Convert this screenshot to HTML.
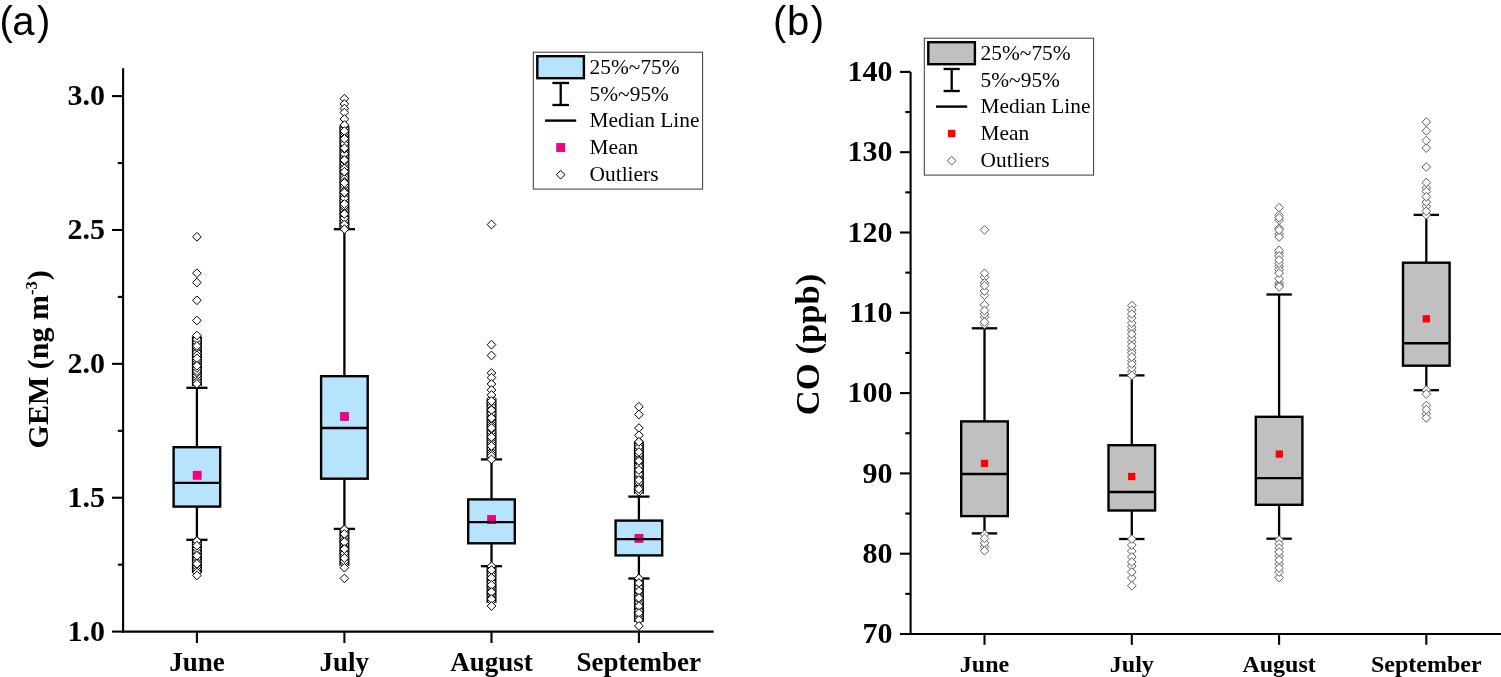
<!DOCTYPE html>
<html><head><meta charset="utf-8"><title>Box plots</title>
<style>html,body{margin:0;padding:0;background:#fff;overflow:hidden}svg{display:block}</style>
</head><body>
<svg width="1501" height="677" viewBox="0 0 1501 677">
<rect width="1501" height="677" fill="#fff"/>
<text x="-0.40" y="35.00" font-family="'Liberation Sans',Arial,sans-serif" font-size="40" font-weight="normal" text-anchor="start" >(<tspan dx="-0.6">a</tspan><tspan dx="2.4">)</tspan></text>
<line x1="196.90" y1="387.80" x2="196.90" y2="447.20" stroke="#000" stroke-width="2.3" stroke-linecap="butt"/>
<line x1="196.90" y1="506.60" x2="196.90" y2="539.80" stroke="#000" stroke-width="2.3" stroke-linecap="butt"/>
<line x1="186.30" y1="387.80" x2="207.50" y2="387.80" stroke="#000" stroke-width="2.3" stroke-linecap="butt"/>
<line x1="186.30" y1="539.80" x2="207.50" y2="539.80" stroke="#000" stroke-width="2.3" stroke-linecap="butt"/>
<rect x="173.60" y="447.20" width="46.60" height="59.40" fill="#b7e4fd" stroke="#000" stroke-width="2.4"/>
<rect x="192.75" y="470.85" width="8.90" height="8.90" fill="#f00082" stroke="none" stroke-width="0"/>
<line x1="173.60" y1="482.90" x2="220.20" y2="482.90" stroke="#000" stroke-width="2.4" stroke-linecap="butt"/>
<path d="M196.90 339.94L201.25 344.29L196.90 348.64L192.55 344.29Z" fill="#fff" stroke="#000" stroke-width="1.0"/>
<path d="M196.90 345.49L201.25 349.84L196.90 354.19L192.55 349.84Z" fill="#fff" stroke="#000" stroke-width="1.0"/>
<path d="M196.90 332.44L201.25 336.79L196.90 341.14L192.55 336.79Z" fill="#fff" stroke="#000" stroke-width="1.0"/>
<path d="M196.90 374.40L201.25 378.75L196.90 383.10L192.55 378.75Z" fill="#fff" stroke="#000" stroke-width="1.0"/>
<path d="M196.90 358.13L201.25 362.48L196.90 366.83L192.55 362.48Z" fill="#fff" stroke="#000" stroke-width="1.0"/>
<path d="M196.90 355.97L201.25 360.32L196.90 364.67L192.55 360.32Z" fill="#fff" stroke="#000" stroke-width="1.0"/>
<path d="M196.90 360.76L201.25 365.11L196.90 369.46L192.55 365.11Z" fill="#fff" stroke="#000" stroke-width="1.0"/>
<path d="M196.90 371.32L201.25 375.67L196.90 380.02L192.55 375.67Z" fill="#fff" stroke="#000" stroke-width="1.0"/>
<path d="M196.90 368.60L201.25 372.95L196.90 377.30L192.55 372.95Z" fill="#fff" stroke="#000" stroke-width="1.0"/>
<path d="M196.90 379.54L201.25 383.89L196.90 388.24L192.55 383.89Z" fill="#fff" stroke="#000" stroke-width="1.0"/>
<path d="M196.90 347.72L201.25 352.07L196.90 356.42L192.55 352.07Z" fill="#fff" stroke="#000" stroke-width="1.0"/>
<path d="M196.90 343.09L201.25 347.44L196.90 351.79L192.55 347.44Z" fill="#fff" stroke="#000" stroke-width="1.0"/>
<path d="M196.90 338.03L201.25 342.38L196.90 346.73L192.55 342.38Z" fill="#fff" stroke="#000" stroke-width="1.0"/>
<path d="M196.90 366.84L201.25 371.19L196.90 375.54L192.55 371.19Z" fill="#fff" stroke="#000" stroke-width="1.0"/>
<path d="M196.90 352.89L201.25 357.24L196.90 361.59L192.55 357.24Z" fill="#fff" stroke="#000" stroke-width="1.0"/>
<path d="M196.90 377.39L201.25 381.74L196.90 386.09L192.55 381.74Z" fill="#fff" stroke="#000" stroke-width="1.0"/>
<path d="M196.90 350.86L201.25 355.21L196.90 359.56L192.55 355.21Z" fill="#fff" stroke="#000" stroke-width="1.0"/>
<path d="M196.90 334.83L201.25 339.18L196.90 343.53L192.55 339.18Z" fill="#fff" stroke="#000" stroke-width="1.0"/>
<path d="M196.90 363.76L201.25 368.11L196.90 372.46L192.55 368.11Z" fill="#fff" stroke="#000" stroke-width="1.0"/>
<line x1="192.50" y1="337.00" x2="192.50" y2="386.00" stroke="#000" stroke-width="1.2" stroke-linecap="butt"/>
<line x1="201.30" y1="337.00" x2="201.30" y2="386.00" stroke="#000" stroke-width="1.2" stroke-linecap="butt"/>
<path d="M196.90 565.60L201.25 569.95L196.90 574.30L192.55 569.95Z" fill="#fff" stroke="#000" stroke-width="1.0"/>
<path d="M196.90 536.50L201.25 540.85L196.90 545.20L192.55 540.85Z" fill="#fff" stroke="#000" stroke-width="1.0"/>
<path d="M196.90 562.41L201.25 566.76L196.90 571.11L192.55 566.76Z" fill="#fff" stroke="#000" stroke-width="1.0"/>
<path d="M196.90 552.16L201.25 556.51L196.90 560.86L192.55 556.51Z" fill="#fff" stroke="#000" stroke-width="1.0"/>
<path d="M196.90 568.09L201.25 572.44L196.90 576.79L192.55 572.44Z" fill="#fff" stroke="#000" stroke-width="1.0"/>
<path d="M196.90 549.87L201.25 554.22L196.90 558.57L192.55 554.22Z" fill="#fff" stroke="#000" stroke-width="1.0"/>
<path d="M196.90 541.33L201.25 545.68L196.90 550.03L192.55 545.68Z" fill="#fff" stroke="#000" stroke-width="1.0"/>
<path d="M196.90 554.63L201.25 558.98L196.90 563.33L192.55 558.98Z" fill="#fff" stroke="#000" stroke-width="1.0"/>
<path d="M196.90 557.55L201.25 561.90L196.90 566.25L192.55 561.90Z" fill="#fff" stroke="#000" stroke-width="1.0"/>
<path d="M196.90 546.70L201.25 551.05L196.90 555.40L192.55 551.05Z" fill="#fff" stroke="#000" stroke-width="1.0"/>
<path d="M196.90 559.99L201.25 564.34L196.90 568.69L192.55 564.34Z" fill="#fff" stroke="#000" stroke-width="1.0"/>
<path d="M196.90 539.31L201.25 543.66L196.90 548.01L192.55 543.66Z" fill="#fff" stroke="#000" stroke-width="1.0"/>
<path d="M196.90 543.92L201.25 548.27L196.90 552.62L192.55 548.27Z" fill="#fff" stroke="#000" stroke-width="1.0"/>
<line x1="192.50" y1="541.00" x2="192.50" y2="573.00" stroke="#000" stroke-width="1.2" stroke-linecap="butt"/>
<line x1="201.30" y1="541.00" x2="201.30" y2="573.00" stroke="#000" stroke-width="1.2" stroke-linecap="butt"/>
<path d="M196.90 232.45L201.25 236.80L196.90 241.15L192.55 236.80Z" fill="#fff" stroke="#000" stroke-width="1.0"/>
<path d="M196.90 268.85L201.25 273.20L196.90 277.55L192.55 273.20Z" fill="#fff" stroke="#000" stroke-width="1.0"/>
<path d="M196.90 278.15L201.25 282.50L196.90 286.85L192.55 282.50Z" fill="#fff" stroke="#000" stroke-width="1.0"/>
<path d="M196.90 295.95L201.25 300.30L196.90 304.65L192.55 300.30Z" fill="#fff" stroke="#000" stroke-width="1.0"/>
<path d="M196.90 316.15L201.25 320.50L196.90 324.85L192.55 320.50Z" fill="#fff" stroke="#000" stroke-width="1.0"/>
<path d="M196.90 331.15L201.25 335.50L196.90 339.85L192.55 335.50Z" fill="#fff" stroke="#000" stroke-width="1.0"/>
<path d="M196.90 341.55L201.25 345.90L196.90 350.25L192.55 345.90Z" fill="#fff" stroke="#000" stroke-width="1.0"/>
<path d="M196.90 353.95L201.25 358.30L196.90 362.65L192.55 358.30Z" fill="#fff" stroke="#000" stroke-width="1.0"/>
<path d="M196.90 361.45L201.25 365.80L196.90 370.15L192.55 365.80Z" fill="#fff" stroke="#000" stroke-width="1.0"/>
<path d="M196.90 379.55L201.25 383.90L196.90 388.25L192.55 383.90Z" fill="#fff" stroke="#000" stroke-width="1.0"/>
<path d="M196.90 536.65L201.25 541.00L196.90 545.35L192.55 541.00Z" fill="#fff" stroke="#000" stroke-width="1.0"/>
<path d="M196.90 541.35L201.25 545.70L196.90 550.05L192.55 545.70Z" fill="#fff" stroke="#000" stroke-width="1.0"/>
<path d="M196.90 551.35L201.25 555.70L196.90 560.05L192.55 555.70Z" fill="#fff" stroke="#000" stroke-width="1.0"/>
<path d="M196.90 559.45L201.25 563.80L196.90 568.15L192.55 563.80Z" fill="#fff" stroke="#000" stroke-width="1.0"/>
<path d="M196.90 571.05L201.25 575.40L196.90 579.75L192.55 575.40Z" fill="#fff" stroke="#000" stroke-width="1.0"/>
<line x1="344.40" y1="229.20" x2="344.40" y2="376.20" stroke="#000" stroke-width="2.3" stroke-linecap="butt"/>
<line x1="344.40" y1="478.70" x2="344.40" y2="528.90" stroke="#000" stroke-width="2.3" stroke-linecap="butt"/>
<line x1="333.80" y1="229.20" x2="355.00" y2="229.20" stroke="#000" stroke-width="2.3" stroke-linecap="butt"/>
<line x1="333.80" y1="528.90" x2="355.00" y2="528.90" stroke="#000" stroke-width="2.3" stroke-linecap="butt"/>
<rect x="321.10" y="376.20" width="46.60" height="102.50" fill="#b7e4fd" stroke="#000" stroke-width="2.4"/>
<rect x="340.05" y="412.05" width="8.90" height="8.90" fill="#f00082" stroke="none" stroke-width="0"/>
<line x1="321.10" y1="428.00" x2="367.70" y2="428.00" stroke="#000" stroke-width="2.4" stroke-linecap="butt"/>
<path d="M344.40 168.62L348.75 172.97L344.40 177.32L340.05 172.97Z" fill="#fff" stroke="#000" stroke-width="1.0"/>
<path d="M344.40 206.35L348.75 210.70L344.40 215.05L340.05 210.70Z" fill="#fff" stroke="#000" stroke-width="1.0"/>
<path d="M344.40 124.05L348.75 128.40L344.40 132.75L340.05 128.40Z" fill="#fff" stroke="#000" stroke-width="1.0"/>
<path d="M344.40 219.21L348.75 223.56L344.40 227.91L340.05 223.56Z" fill="#fff" stroke="#000" stroke-width="1.0"/>
<path d="M344.40 179.54L348.75 183.89L344.40 188.24L340.05 183.89Z" fill="#fff" stroke="#000" stroke-width="1.0"/>
<path d="M344.40 151.76L348.75 156.11L344.40 160.46L340.05 156.11Z" fill="#fff" stroke="#000" stroke-width="1.0"/>
<path d="M344.40 128.73L348.75 133.08L344.40 137.43L340.05 133.08Z" fill="#fff" stroke="#000" stroke-width="1.0"/>
<path d="M344.40 136.85L348.75 141.20L344.40 145.55L340.05 141.20Z" fill="#fff" stroke="#000" stroke-width="1.0"/>
<path d="M344.40 222.11L348.75 226.46L344.40 230.81L340.05 226.46Z" fill="#fff" stroke="#000" stroke-width="1.0"/>
<path d="M344.40 171.89L348.75 176.24L344.40 180.59L340.05 176.24Z" fill="#fff" stroke="#000" stroke-width="1.0"/>
<path d="M344.40 184.01L348.75 188.36L344.40 192.71L340.05 188.36Z" fill="#fff" stroke="#000" stroke-width="1.0"/>
<path d="M344.40 191.60L348.75 195.95L344.40 200.30L340.05 195.95Z" fill="#fff" stroke="#000" stroke-width="1.0"/>
<path d="M344.40 212.10L348.75 216.45L344.40 220.80L340.05 216.45Z" fill="#fff" stroke="#000" stroke-width="1.0"/>
<path d="M344.40 162.18L348.75 166.53L344.40 170.88L340.05 166.53Z" fill="#fff" stroke="#000" stroke-width="1.0"/>
<path d="M344.40 126.96L348.75 131.31L344.40 135.66L340.05 131.31Z" fill="#fff" stroke="#000" stroke-width="1.0"/>
<path d="M344.40 146.43L348.75 150.78L344.40 155.13L340.05 150.78Z" fill="#fff" stroke="#000" stroke-width="1.0"/>
<path d="M344.40 198.62L348.75 202.97L344.40 207.32L340.05 202.97Z" fill="#fff" stroke="#000" stroke-width="1.0"/>
<path d="M344.40 216.59L348.75 220.94L344.40 225.29L340.05 220.94Z" fill="#fff" stroke="#000" stroke-width="1.0"/>
<path d="M344.40 154.25L348.75 158.60L344.40 162.95L340.05 158.60Z" fill="#fff" stroke="#000" stroke-width="1.0"/>
<path d="M344.40 196.19L348.75 200.54L344.40 204.89L340.05 200.54Z" fill="#fff" stroke="#000" stroke-width="1.0"/>
<path d="M344.40 213.65L348.75 218.00L344.40 222.35L340.05 218.00Z" fill="#fff" stroke="#000" stroke-width="1.0"/>
<path d="M344.40 203.71L348.75 208.06L344.40 212.41L340.05 208.06Z" fill="#fff" stroke="#000" stroke-width="1.0"/>
<path d="M344.40 141.74L348.75 146.09L344.40 150.44L340.05 146.09Z" fill="#fff" stroke="#000" stroke-width="1.0"/>
<path d="M344.40 201.97L348.75 206.32L344.40 210.67L340.05 206.32Z" fill="#fff" stroke="#000" stroke-width="1.0"/>
<path d="M344.40 166.85L348.75 171.20L344.40 175.55L340.05 171.20Z" fill="#fff" stroke="#000" stroke-width="1.0"/>
<path d="M344.40 159.56L348.75 163.91L344.40 168.26L340.05 163.91Z" fill="#fff" stroke="#000" stroke-width="1.0"/>
<path d="M344.40 121.19L348.75 125.54L344.40 129.89L340.05 125.54Z" fill="#fff" stroke="#000" stroke-width="1.0"/>
<path d="M344.40 193.75L348.75 198.10L344.40 202.45L340.05 198.10Z" fill="#fff" stroke="#000" stroke-width="1.0"/>
<path d="M344.40 174.33L348.75 178.68L344.40 183.03L340.05 178.68Z" fill="#fff" stroke="#000" stroke-width="1.0"/>
<path d="M344.40 139.47L348.75 143.82L344.40 148.17L340.05 143.82Z" fill="#fff" stroke="#000" stroke-width="1.0"/>
<path d="M344.40 131.64L348.75 135.99L344.40 140.34L340.05 135.99Z" fill="#fff" stroke="#000" stroke-width="1.0"/>
<path d="M344.40 149.38L348.75 153.73L344.40 158.08L340.05 153.73Z" fill="#fff" stroke="#000" stroke-width="1.0"/>
<path d="M344.40 133.60L348.75 137.95L344.40 142.30L340.05 137.95Z" fill="#fff" stroke="#000" stroke-width="1.0"/>
<path d="M344.40 144.60L348.75 148.95L344.40 153.30L340.05 148.95Z" fill="#fff" stroke="#000" stroke-width="1.0"/>
<path d="M344.40 156.60L348.75 160.95L344.40 165.30L340.05 160.95Z" fill="#fff" stroke="#000" stroke-width="1.0"/>
<path d="M344.40 181.39L348.75 185.74L344.40 190.09L340.05 185.74Z" fill="#fff" stroke="#000" stroke-width="1.0"/>
<path d="M344.40 177.24L348.75 181.59L344.40 185.94L340.05 181.59Z" fill="#fff" stroke="#000" stroke-width="1.0"/>
<path d="M344.40 186.85L348.75 191.20L344.40 195.55L340.05 191.20Z" fill="#fff" stroke="#000" stroke-width="1.0"/>
<path d="M344.40 164.12L348.75 168.47L344.40 172.82L340.05 168.47Z" fill="#fff" stroke="#000" stroke-width="1.0"/>
<path d="M344.40 209.02L348.75 213.37L344.40 217.72L340.05 213.37Z" fill="#fff" stroke="#000" stroke-width="1.0"/>
<path d="M344.40 188.58L348.75 192.93L344.40 197.28L340.05 192.93Z" fill="#fff" stroke="#000" stroke-width="1.0"/>
<line x1="340.00" y1="126.00" x2="340.00" y2="228.00" stroke="#000" stroke-width="1.2" stroke-linecap="butt"/>
<line x1="348.80" y1="126.00" x2="348.80" y2="228.00" stroke="#000" stroke-width="1.2" stroke-linecap="butt"/>
<path d="M344.40 525.12L348.75 529.47L344.40 533.82L340.05 529.47Z" fill="#fff" stroke="#000" stroke-width="1.0"/>
<path d="M344.40 530.50L348.75 534.85L344.40 539.20L340.05 534.85Z" fill="#fff" stroke="#000" stroke-width="1.0"/>
<path d="M344.40 554.70L348.75 559.05L344.40 563.40L340.05 559.05Z" fill="#fff" stroke="#000" stroke-width="1.0"/>
<path d="M344.40 559.03L348.75 563.38L344.40 567.73L340.05 563.38Z" fill="#fff" stroke="#000" stroke-width="1.0"/>
<path d="M344.40 551.08L348.75 555.43L344.40 559.78L340.05 555.43Z" fill="#fff" stroke="#000" stroke-width="1.0"/>
<path d="M344.40 533.04L348.75 537.39L344.40 541.74L340.05 537.39Z" fill="#fff" stroke="#000" stroke-width="1.0"/>
<path d="M344.40 540.65L348.75 545.00L344.40 549.35L340.05 545.00Z" fill="#fff" stroke="#000" stroke-width="1.0"/>
<path d="M344.40 545.97L348.75 550.32L344.40 554.67L340.05 550.32Z" fill="#fff" stroke="#000" stroke-width="1.0"/>
<path d="M344.40 527.73L348.75 532.08L344.40 536.43L340.05 532.08Z" fill="#fff" stroke="#000" stroke-width="1.0"/>
<path d="M344.40 543.43L348.75 547.78L344.40 552.13L340.05 547.78Z" fill="#fff" stroke="#000" stroke-width="1.0"/>
<path d="M344.40 556.99L348.75 561.34L344.40 565.69L340.05 561.34Z" fill="#fff" stroke="#000" stroke-width="1.0"/>
<path d="M344.40 548.89L348.75 553.24L344.40 557.59L340.05 553.24Z" fill="#fff" stroke="#000" stroke-width="1.0"/>
<path d="M344.40 538.11L348.75 542.46L344.40 546.81L340.05 542.46Z" fill="#fff" stroke="#000" stroke-width="1.0"/>
<path d="M344.40 535.86L348.75 540.21L344.40 544.56L340.05 540.21Z" fill="#fff" stroke="#000" stroke-width="1.0"/>
<line x1="340.00" y1="530.00" x2="340.00" y2="566.00" stroke="#000" stroke-width="1.2" stroke-linecap="butt"/>
<line x1="348.80" y1="530.00" x2="348.80" y2="566.00" stroke="#000" stroke-width="1.2" stroke-linecap="butt"/>
<path d="M344.40 94.35L348.75 98.70L344.40 103.05L340.05 98.70Z" fill="#fff" stroke="#000" stroke-width="1.0"/>
<path d="M344.40 99.65L348.75 104.00L344.40 108.35L340.05 104.00Z" fill="#fff" stroke="#000" stroke-width="1.0"/>
<path d="M344.40 104.15L348.75 108.50L344.40 112.85L340.05 108.50Z" fill="#fff" stroke="#000" stroke-width="1.0"/>
<path d="M344.40 108.15L348.75 112.50L344.40 116.85L340.05 112.50Z" fill="#fff" stroke="#000" stroke-width="1.0"/>
<path d="M344.40 114.65L348.75 119.00L344.40 123.35L340.05 119.00Z" fill="#fff" stroke="#000" stroke-width="1.0"/>
<path d="M344.40 120.65L348.75 125.00L344.40 129.35L340.05 125.00Z" fill="#fff" stroke="#000" stroke-width="1.0"/>
<path d="M344.40 126.75L348.75 131.10L344.40 135.45L340.05 131.10Z" fill="#fff" stroke="#000" stroke-width="1.0"/>
<path d="M344.40 134.45L348.75 138.80L344.40 143.15L340.05 138.80Z" fill="#fff" stroke="#000" stroke-width="1.0"/>
<path d="M344.40 143.85L348.75 148.20L344.40 152.55L340.05 148.20Z" fill="#fff" stroke="#000" stroke-width="1.0"/>
<path d="M344.40 155.65L348.75 160.00L344.40 164.35L340.05 160.00Z" fill="#fff" stroke="#000" stroke-width="1.0"/>
<path d="M344.40 167.35L348.75 171.70L344.40 176.05L340.05 171.70Z" fill="#fff" stroke="#000" stroke-width="1.0"/>
<path d="M344.40 178.65L348.75 183.00L344.40 187.35L340.05 183.00Z" fill="#fff" stroke="#000" stroke-width="1.0"/>
<path d="M344.40 188.15L348.75 192.50L344.40 196.85L340.05 192.50Z" fill="#fff" stroke="#000" stroke-width="1.0"/>
<path d="M344.40 199.65L348.75 204.00L344.40 208.35L340.05 204.00Z" fill="#fff" stroke="#000" stroke-width="1.0"/>
<path d="M344.40 209.65L348.75 214.00L344.40 218.35L340.05 214.00Z" fill="#fff" stroke="#000" stroke-width="1.0"/>
<path d="M344.40 220.15L348.75 224.50L344.40 228.85L340.05 224.50Z" fill="#fff" stroke="#000" stroke-width="1.0"/>
<path d="M344.40 224.85L348.75 229.20L344.40 233.55L340.05 229.20Z" fill="#fff" stroke="#000" stroke-width="1.0"/>
<path d="M344.40 525.15L348.75 529.50L344.40 533.85L340.05 529.50Z" fill="#fff" stroke="#000" stroke-width="1.0"/>
<path d="M344.40 529.65L348.75 534.00L344.40 538.35L340.05 534.00Z" fill="#fff" stroke="#000" stroke-width="1.0"/>
<path d="M344.40 537.65L348.75 542.00L344.40 546.35L340.05 542.00Z" fill="#fff" stroke="#000" stroke-width="1.0"/>
<path d="M344.40 544.65L348.75 549.00L344.40 553.35L340.05 549.00Z" fill="#fff" stroke="#000" stroke-width="1.0"/>
<path d="M344.40 553.65L348.75 558.00L344.40 562.35L340.05 558.00Z" fill="#fff" stroke="#000" stroke-width="1.0"/>
<path d="M344.40 563.35L348.75 567.70L344.40 572.05L340.05 567.70Z" fill="#fff" stroke="#000" stroke-width="1.0"/>
<path d="M344.40 574.05L348.75 578.40L344.40 582.75L340.05 578.40Z" fill="#fff" stroke="#000" stroke-width="1.0"/>
<line x1="491.50" y1="459.40" x2="491.50" y2="499.40" stroke="#000" stroke-width="2.3" stroke-linecap="butt"/>
<line x1="491.50" y1="543.30" x2="491.50" y2="566.20" stroke="#000" stroke-width="2.3" stroke-linecap="butt"/>
<line x1="480.90" y1="459.40" x2="502.10" y2="459.40" stroke="#000" stroke-width="2.3" stroke-linecap="butt"/>
<line x1="480.90" y1="566.20" x2="502.10" y2="566.20" stroke="#000" stroke-width="2.3" stroke-linecap="butt"/>
<rect x="468.20" y="499.40" width="46.60" height="43.90" fill="#b7e4fd" stroke="#000" stroke-width="2.4"/>
<rect x="487.15" y="515.05" width="8.90" height="8.90" fill="#f00082" stroke="none" stroke-width="0"/>
<line x1="468.20" y1="522.10" x2="514.80" y2="522.10" stroke="#000" stroke-width="2.4" stroke-linecap="butt"/>
<path d="M491.50 396.67L495.85 401.02L491.50 405.37L487.15 401.02Z" fill="#fff" stroke="#000" stroke-width="1.0"/>
<path d="M491.50 416.73L495.85 421.08L491.50 425.43L487.15 421.08Z" fill="#fff" stroke="#000" stroke-width="1.0"/>
<path d="M491.50 430.09L495.85 434.44L491.50 438.79L487.15 434.44Z" fill="#fff" stroke="#000" stroke-width="1.0"/>
<path d="M491.50 419.70L495.85 424.05L491.50 428.40L487.15 424.05Z" fill="#fff" stroke="#000" stroke-width="1.0"/>
<path d="M491.50 399.46L495.85 403.81L491.50 408.16L487.15 403.81Z" fill="#fff" stroke="#000" stroke-width="1.0"/>
<path d="M491.50 414.68L495.85 419.03L491.50 423.38L487.15 419.03Z" fill="#fff" stroke="#000" stroke-width="1.0"/>
<path d="M491.50 442.48L495.85 446.83L491.50 451.18L487.15 446.83Z" fill="#fff" stroke="#000" stroke-width="1.0"/>
<path d="M491.50 439.25L495.85 443.60L491.50 447.95L487.15 443.60Z" fill="#fff" stroke="#000" stroke-width="1.0"/>
<path d="M491.50 406.74L495.85 411.09L491.50 415.44L487.15 411.09Z" fill="#fff" stroke="#000" stroke-width="1.0"/>
<path d="M491.50 401.87L495.85 406.22L491.50 410.57L487.15 406.22Z" fill="#fff" stroke="#000" stroke-width="1.0"/>
<path d="M491.50 427.72L495.85 432.07L491.50 436.42L487.15 432.07Z" fill="#fff" stroke="#000" stroke-width="1.0"/>
<path d="M491.50 444.69L495.85 449.04L491.50 453.39L487.15 449.04Z" fill="#fff" stroke="#000" stroke-width="1.0"/>
<path d="M491.50 405.04L495.85 409.39L491.50 413.74L487.15 409.39Z" fill="#fff" stroke="#000" stroke-width="1.0"/>
<path d="M491.50 447.48L495.85 451.83L491.50 456.18L487.15 451.83Z" fill="#fff" stroke="#000" stroke-width="1.0"/>
<path d="M491.50 436.99L495.85 441.34L491.50 445.69L487.15 441.34Z" fill="#fff" stroke="#000" stroke-width="1.0"/>
<path d="M491.50 394.15L495.85 398.50L491.50 402.85L487.15 398.50Z" fill="#fff" stroke="#000" stroke-width="1.0"/>
<path d="M491.50 421.58L495.85 425.93L491.50 430.28L487.15 425.93Z" fill="#fff" stroke="#000" stroke-width="1.0"/>
<path d="M491.50 432.39L495.85 436.74L491.50 441.09L487.15 436.74Z" fill="#fff" stroke="#000" stroke-width="1.0"/>
<path d="M491.50 434.36L495.85 438.71L491.50 443.06L487.15 438.71Z" fill="#fff" stroke="#000" stroke-width="1.0"/>
<path d="M491.50 451.82L495.85 456.17L491.50 460.52L487.15 456.17Z" fill="#fff" stroke="#000" stroke-width="1.0"/>
<path d="M491.50 449.45L495.85 453.80L491.50 458.15L487.15 453.80Z" fill="#fff" stroke="#000" stroke-width="1.0"/>
<path d="M491.50 424.68L495.85 429.03L491.50 433.38L487.15 429.03Z" fill="#fff" stroke="#000" stroke-width="1.0"/>
<path d="M491.50 412.69L495.85 417.04L491.50 421.39L487.15 417.04Z" fill="#fff" stroke="#000" stroke-width="1.0"/>
<path d="M491.50 409.08L495.85 413.43L491.50 417.78L487.15 413.43Z" fill="#fff" stroke="#000" stroke-width="1.0"/>
<line x1="487.10" y1="399.00" x2="487.10" y2="458.00" stroke="#000" stroke-width="1.2" stroke-linecap="butt"/>
<line x1="495.90" y1="399.00" x2="495.90" y2="458.00" stroke="#000" stroke-width="1.2" stroke-linecap="butt"/>
<path d="M491.50 586.22L495.85 590.57L491.50 594.92L487.15 590.57Z" fill="#fff" stroke="#000" stroke-width="1.0"/>
<path d="M491.50 590.79L495.85 595.14L491.50 599.49L487.15 595.14Z" fill="#fff" stroke="#000" stroke-width="1.0"/>
<path d="M491.50 573.63L495.85 577.98L491.50 582.33L487.15 577.98Z" fill="#fff" stroke="#000" stroke-width="1.0"/>
<path d="M491.50 583.26L495.85 587.61L491.50 591.96L487.15 587.61Z" fill="#fff" stroke="#000" stroke-width="1.0"/>
<path d="M491.50 562.17L495.85 566.52L491.50 570.87L487.15 566.52Z" fill="#fff" stroke="#000" stroke-width="1.0"/>
<path d="M491.50 593.72L495.85 598.07L491.50 602.42L487.15 598.07Z" fill="#fff" stroke="#000" stroke-width="1.0"/>
<path d="M491.50 596.70L495.85 601.05L491.50 605.40L487.15 601.05Z" fill="#fff" stroke="#000" stroke-width="1.0"/>
<path d="M491.50 589.05L495.85 593.40L491.50 597.75L487.15 593.40Z" fill="#fff" stroke="#000" stroke-width="1.0"/>
<path d="M491.50 565.21L495.85 569.56L491.50 573.91L487.15 569.56Z" fill="#fff" stroke="#000" stroke-width="1.0"/>
<path d="M491.50 575.78L495.85 580.13L491.50 584.48L487.15 580.13Z" fill="#fff" stroke="#000" stroke-width="1.0"/>
<path d="M491.50 577.65L495.85 582.00L491.50 586.35L487.15 582.00Z" fill="#fff" stroke="#000" stroke-width="1.0"/>
<path d="M491.50 567.66L495.85 572.01L491.50 576.36L487.15 572.01Z" fill="#fff" stroke="#000" stroke-width="1.0"/>
<path d="M491.50 581.34L495.85 585.69L491.50 590.04L487.15 585.69Z" fill="#fff" stroke="#000" stroke-width="1.0"/>
<path d="M491.50 570.43L495.85 574.78L491.50 579.13L487.15 574.78Z" fill="#fff" stroke="#000" stroke-width="1.0"/>
<line x1="487.10" y1="567.00" x2="487.10" y2="603.00" stroke="#000" stroke-width="1.2" stroke-linecap="butt"/>
<line x1="495.90" y1="567.00" x2="495.90" y2="603.00" stroke="#000" stroke-width="1.2" stroke-linecap="butt"/>
<path d="M491.50 220.15L495.85 224.50L491.50 228.85L487.15 224.50Z" fill="#fff" stroke="#000" stroke-width="1.0"/>
<path d="M491.50 340.35L495.85 344.70L491.50 349.05L487.15 344.70Z" fill="#fff" stroke="#000" stroke-width="1.0"/>
<path d="M491.50 351.15L495.85 355.50L491.50 359.85L487.15 355.50Z" fill="#fff" stroke="#000" stroke-width="1.0"/>
<path d="M491.50 368.65L495.85 373.00L491.50 377.35L487.15 373.00Z" fill="#fff" stroke="#000" stroke-width="1.0"/>
<path d="M491.50 373.25L495.85 377.60L491.50 381.95L487.15 377.60Z" fill="#fff" stroke="#000" stroke-width="1.0"/>
<path d="M491.50 379.65L495.85 384.00L491.50 388.35L487.15 384.00Z" fill="#fff" stroke="#000" stroke-width="1.0"/>
<path d="M491.50 385.65L495.85 390.00L491.50 394.35L487.15 390.00Z" fill="#fff" stroke="#000" stroke-width="1.0"/>
<path d="M491.50 390.65L495.85 395.00L491.50 399.35L487.15 395.00Z" fill="#fff" stroke="#000" stroke-width="1.0"/>
<path d="M491.50 396.65L495.85 401.00L491.50 405.35L487.15 401.00Z" fill="#fff" stroke="#000" stroke-width="1.0"/>
<path d="M491.50 405.65L495.85 410.00L491.50 414.35L487.15 410.00Z" fill="#fff" stroke="#000" stroke-width="1.0"/>
<path d="M491.50 413.65L495.85 418.00L491.50 422.35L487.15 418.00Z" fill="#fff" stroke="#000" stroke-width="1.0"/>
<path d="M491.50 423.65L495.85 428.00L491.50 432.35L487.15 428.00Z" fill="#fff" stroke="#000" stroke-width="1.0"/>
<path d="M491.50 432.65L495.85 437.00L491.50 441.35L487.15 437.00Z" fill="#fff" stroke="#000" stroke-width="1.0"/>
<path d="M491.50 441.65L495.85 446.00L491.50 450.35L487.15 446.00Z" fill="#fff" stroke="#000" stroke-width="1.0"/>
<path d="M491.50 451.65L495.85 456.00L491.50 460.35L487.15 456.00Z" fill="#fff" stroke="#000" stroke-width="1.0"/>
<path d="M491.50 455.05L495.85 459.40L491.50 463.75L487.15 459.40Z" fill="#fff" stroke="#000" stroke-width="1.0"/>
<path d="M491.50 561.85L495.85 566.20L491.50 570.55L487.15 566.20Z" fill="#fff" stroke="#000" stroke-width="1.0"/>
<path d="M491.50 565.65L495.85 570.00L491.50 574.35L487.15 570.00Z" fill="#fff" stroke="#000" stroke-width="1.0"/>
<path d="M491.50 573.65L495.85 578.00L491.50 582.35L487.15 578.00Z" fill="#fff" stroke="#000" stroke-width="1.0"/>
<path d="M491.50 580.65L495.85 585.00L491.50 589.35L487.15 585.00Z" fill="#fff" stroke="#000" stroke-width="1.0"/>
<path d="M491.50 587.65L495.85 592.00L491.50 596.35L487.15 592.00Z" fill="#fff" stroke="#000" stroke-width="1.0"/>
<path d="M491.50 594.65L495.85 599.00L491.50 603.35L487.15 599.00Z" fill="#fff" stroke="#000" stroke-width="1.0"/>
<path d="M491.50 601.65L495.85 606.00L491.50 610.35L487.15 606.00Z" fill="#fff" stroke="#000" stroke-width="1.0"/>
<line x1="638.90" y1="496.60" x2="638.90" y2="520.60" stroke="#000" stroke-width="2.3" stroke-linecap="butt"/>
<line x1="638.90" y1="555.40" x2="638.90" y2="578.50" stroke="#000" stroke-width="2.3" stroke-linecap="butt"/>
<line x1="628.30" y1="496.60" x2="649.50" y2="496.60" stroke="#000" stroke-width="2.3" stroke-linecap="butt"/>
<line x1="628.30" y1="578.50" x2="649.50" y2="578.50" stroke="#000" stroke-width="2.3" stroke-linecap="butt"/>
<rect x="615.60" y="520.60" width="46.60" height="34.80" fill="#b7e4fd" stroke="#000" stroke-width="2.4"/>
<rect x="634.55" y="533.95" width="8.90" height="8.90" fill="#f00082" stroke="none" stroke-width="0"/>
<line x1="615.60" y1="539.10" x2="662.20" y2="539.10" stroke="#000" stroke-width="2.4" stroke-linecap="butt"/>
<path d="M638.90 445.34L643.25 449.69L638.90 454.04L634.55 449.69Z" fill="#fff" stroke="#000" stroke-width="1.0"/>
<path d="M638.90 467.92L643.25 472.27L638.90 476.62L634.55 472.27Z" fill="#fff" stroke="#000" stroke-width="1.0"/>
<path d="M638.90 472.95L643.25 477.30L638.90 481.65L634.55 477.30Z" fill="#fff" stroke="#000" stroke-width="1.0"/>
<path d="M638.90 479.78L643.25 484.13L638.90 488.48L634.55 484.13Z" fill="#fff" stroke="#000" stroke-width="1.0"/>
<path d="M638.90 440.26L643.25 444.61L638.90 448.96L634.55 444.61Z" fill="#fff" stroke="#000" stroke-width="1.0"/>
<path d="M638.90 447.78L643.25 452.13L638.90 456.48L634.55 452.13Z" fill="#fff" stroke="#000" stroke-width="1.0"/>
<path d="M638.90 460.21L643.25 464.56L638.90 468.91L634.55 464.56Z" fill="#fff" stroke="#000" stroke-width="1.0"/>
<path d="M638.90 452.62L643.25 456.97L638.90 461.32L634.55 456.97Z" fill="#fff" stroke="#000" stroke-width="1.0"/>
<path d="M638.90 487.31L643.25 491.66L638.90 496.01L634.55 491.66Z" fill="#fff" stroke="#000" stroke-width="1.0"/>
<path d="M638.90 484.58L643.25 488.93L638.90 493.28L634.55 488.93Z" fill="#fff" stroke="#000" stroke-width="1.0"/>
<path d="M638.90 450.27L643.25 454.62L638.90 458.97L634.55 454.62Z" fill="#fff" stroke="#000" stroke-width="1.0"/>
<path d="M638.90 465.51L643.25 469.86L638.90 474.21L634.55 469.86Z" fill="#fff" stroke="#000" stroke-width="1.0"/>
<path d="M638.90 437.08L643.25 441.43L638.90 445.78L634.55 441.43Z" fill="#fff" stroke="#000" stroke-width="1.0"/>
<path d="M638.90 442.61L643.25 446.96L638.90 451.31L634.55 446.96Z" fill="#fff" stroke="#000" stroke-width="1.0"/>
<path d="M638.90 474.72L643.25 479.07L638.90 483.42L634.55 479.07Z" fill="#fff" stroke="#000" stroke-width="1.0"/>
<path d="M638.90 469.67L643.25 474.02L638.90 478.37L634.55 474.02Z" fill="#fff" stroke="#000" stroke-width="1.0"/>
<path d="M638.90 457.24L643.25 461.59L638.90 465.94L634.55 461.59Z" fill="#fff" stroke="#000" stroke-width="1.0"/>
<path d="M638.90 462.08L643.25 466.43L638.90 470.78L634.55 466.43Z" fill="#fff" stroke="#000" stroke-width="1.0"/>
<path d="M638.90 483.10L643.25 487.45L638.90 491.80L634.55 487.45Z" fill="#fff" stroke="#000" stroke-width="1.0"/>
<path d="M638.90 455.67L643.25 460.02L638.90 464.37L634.55 460.02Z" fill="#fff" stroke="#000" stroke-width="1.0"/>
<path d="M638.90 478.23L643.25 482.58L638.90 486.93L634.55 482.58Z" fill="#fff" stroke="#000" stroke-width="1.0"/>
<line x1="634.50" y1="442.00" x2="634.50" y2="494.00" stroke="#000" stroke-width="1.2" stroke-linecap="butt"/>
<line x1="643.30" y1="442.00" x2="643.30" y2="494.00" stroke="#000" stroke-width="1.2" stroke-linecap="butt"/>
<path d="M638.90 603.23L643.25 607.58L638.90 611.93L634.55 607.58Z" fill="#fff" stroke="#000" stroke-width="1.0"/>
<path d="M638.90 608.91L643.25 613.26L638.90 617.61L634.55 613.26Z" fill="#fff" stroke="#000" stroke-width="1.0"/>
<path d="M638.90 590.39L643.25 594.74L638.90 599.09L634.55 594.74Z" fill="#fff" stroke="#000" stroke-width="1.0"/>
<path d="M638.90 584.63L643.25 588.98L638.90 593.33L634.55 588.98Z" fill="#fff" stroke="#000" stroke-width="1.0"/>
<path d="M638.90 600.69L643.25 605.04L638.90 609.39L634.55 605.04Z" fill="#fff" stroke="#000" stroke-width="1.0"/>
<path d="M638.90 579.98L643.25 584.33L638.90 588.68L634.55 584.33Z" fill="#fff" stroke="#000" stroke-width="1.0"/>
<path d="M638.90 598.27L643.25 602.62L638.90 606.97L634.55 602.62Z" fill="#fff" stroke="#000" stroke-width="1.0"/>
<path d="M638.90 615.70L643.25 620.05L638.90 624.40L634.55 620.05Z" fill="#fff" stroke="#000" stroke-width="1.0"/>
<path d="M638.90 613.28L643.25 617.63L638.90 621.98L634.55 617.63Z" fill="#fff" stroke="#000" stroke-width="1.0"/>
<path d="M638.90 587.22L643.25 591.57L638.90 595.92L634.55 591.57Z" fill="#fff" stroke="#000" stroke-width="1.0"/>
<path d="M638.90 592.39L643.25 596.74L638.90 601.09L634.55 596.74Z" fill="#fff" stroke="#000" stroke-width="1.0"/>
<path d="M638.90 577.58L643.25 581.93L638.90 586.28L634.55 581.93Z" fill="#fff" stroke="#000" stroke-width="1.0"/>
<path d="M638.90 606.18L643.25 610.53L638.90 614.88L634.55 610.53Z" fill="#fff" stroke="#000" stroke-width="1.0"/>
<path d="M638.90 575.10L643.25 579.45L638.90 583.80L634.55 579.45Z" fill="#fff" stroke="#000" stroke-width="1.0"/>
<path d="M638.90 594.92L643.25 599.27L638.90 603.62L634.55 599.27Z" fill="#fff" stroke="#000" stroke-width="1.0"/>
<path d="M638.90 610.52L643.25 614.87L638.90 619.22L634.55 614.87Z" fill="#fff" stroke="#000" stroke-width="1.0"/>
<path d="M638.90 582.78L643.25 587.13L638.90 591.48L634.55 587.13Z" fill="#fff" stroke="#000" stroke-width="1.0"/>
<line x1="634.50" y1="579.00" x2="634.50" y2="622.00" stroke="#000" stroke-width="1.2" stroke-linecap="butt"/>
<line x1="643.30" y1="579.00" x2="643.30" y2="622.00" stroke="#000" stroke-width="1.2" stroke-linecap="butt"/>
<path d="M638.90 402.35L643.25 406.70L638.90 411.05L634.55 406.70Z" fill="#fff" stroke="#000" stroke-width="1.0"/>
<path d="M638.90 410.15L643.25 414.50L638.90 418.85L634.55 414.50Z" fill="#fff" stroke="#000" stroke-width="1.0"/>
<path d="M638.90 423.65L643.25 428.00L638.90 432.35L634.55 428.00Z" fill="#fff" stroke="#000" stroke-width="1.0"/>
<path d="M638.90 430.95L643.25 435.30L638.90 439.65L634.55 435.30Z" fill="#fff" stroke="#000" stroke-width="1.0"/>
<path d="M638.90 437.45L643.25 441.80L638.90 446.15L634.55 441.80Z" fill="#fff" stroke="#000" stroke-width="1.0"/>
<path d="M638.90 447.65L643.25 452.00L638.90 456.35L634.55 452.00Z" fill="#fff" stroke="#000" stroke-width="1.0"/>
<path d="M638.90 456.65L643.25 461.00L638.90 465.35L634.55 461.00Z" fill="#fff" stroke="#000" stroke-width="1.0"/>
<path d="M638.90 465.65L643.25 470.00L638.90 474.35L634.55 470.00Z" fill="#fff" stroke="#000" stroke-width="1.0"/>
<path d="M638.90 475.65L643.25 480.00L638.90 484.35L634.55 480.00Z" fill="#fff" stroke="#000" stroke-width="1.0"/>
<path d="M638.90 484.65L643.25 489.00L638.90 493.35L634.55 489.00Z" fill="#fff" stroke="#000" stroke-width="1.0"/>
<path d="M638.90 574.15L643.25 578.50L638.90 582.85L634.55 578.50Z" fill="#fff" stroke="#000" stroke-width="1.0"/>
<path d="M638.90 578.65L643.25 583.00L638.90 587.35L634.55 583.00Z" fill="#fff" stroke="#000" stroke-width="1.0"/>
<path d="M638.90 586.65L643.25 591.00L638.90 595.35L634.55 591.00Z" fill="#fff" stroke="#000" stroke-width="1.0"/>
<path d="M638.90 593.65L643.25 598.00L638.90 602.35L634.55 598.00Z" fill="#fff" stroke="#000" stroke-width="1.0"/>
<path d="M638.90 601.65L643.25 606.00L638.90 610.35L634.55 606.00Z" fill="#fff" stroke="#000" stroke-width="1.0"/>
<path d="M638.90 608.65L643.25 613.00L638.90 617.35L634.55 613.00Z" fill="#fff" stroke="#000" stroke-width="1.0"/>
<path d="M638.90 615.65L643.25 620.00L638.90 624.35L634.55 620.00Z" fill="#fff" stroke="#000" stroke-width="1.0"/>
<path d="M638.90 621.55L643.25 625.90L638.90 630.25L634.55 625.90Z" fill="#fff" stroke="#000" stroke-width="1.0"/>
<line x1="123.10" y1="68.30" x2="123.10" y2="632.60" stroke="#000" stroke-width="2.1" stroke-linecap="butt"/>
<line x1="122.05" y1="631.60" x2="713.70" y2="631.60" stroke="#000" stroke-width="2.1" stroke-linecap="butt"/>
<line x1="112.00" y1="631.60" x2="123.10" y2="631.60" stroke="#000" stroke-width="2.1" stroke-linecap="butt"/>
<text x="105.00" y="640.80" font-family="'Liberation Serif','Times New Roman',serif" font-size="30" font-weight="bold" text-anchor="end" >1.0</text>
<line x1="112.00" y1="497.73" x2="123.10" y2="497.73" stroke="#000" stroke-width="2.1" stroke-linecap="butt"/>
<text x="105.00" y="506.93" font-family="'Liberation Serif','Times New Roman',serif" font-size="30" font-weight="bold" text-anchor="end" >1.5</text>
<line x1="112.00" y1="363.85" x2="123.10" y2="363.85" stroke="#000" stroke-width="2.1" stroke-linecap="butt"/>
<text x="105.00" y="373.05" font-family="'Liberation Serif','Times New Roman',serif" font-size="30" font-weight="bold" text-anchor="end" >2.0</text>
<line x1="112.00" y1="229.98" x2="123.10" y2="229.98" stroke="#000" stroke-width="2.1" stroke-linecap="butt"/>
<text x="105.00" y="239.18" font-family="'Liberation Serif','Times New Roman',serif" font-size="30" font-weight="bold" text-anchor="end" >2.5</text>
<line x1="112.00" y1="96.10" x2="123.10" y2="96.10" stroke="#000" stroke-width="2.1" stroke-linecap="butt"/>
<text x="105.00" y="105.30" font-family="'Liberation Serif','Times New Roman',serif" font-size="30" font-weight="bold" text-anchor="end" >3.0</text>
<line x1="117.80" y1="564.66" x2="123.10" y2="564.66" stroke="#000" stroke-width="2.1" stroke-linecap="butt"/>
<line x1="117.80" y1="430.79" x2="123.10" y2="430.79" stroke="#000" stroke-width="2.1" stroke-linecap="butt"/>
<line x1="117.80" y1="296.91" x2="123.10" y2="296.91" stroke="#000" stroke-width="2.1" stroke-linecap="butt"/>
<line x1="117.80" y1="163.04" x2="123.10" y2="163.04" stroke="#000" stroke-width="2.1" stroke-linecap="butt"/>
<line x1="196.90" y1="631.60" x2="196.90" y2="643.00" stroke="#000" stroke-width="2.1" stroke-linecap="butt"/>
<line x1="344.40" y1="631.60" x2="344.40" y2="643.00" stroke="#000" stroke-width="2.1" stroke-linecap="butt"/>
<line x1="491.50" y1="631.60" x2="491.50" y2="643.00" stroke="#000" stroke-width="2.1" stroke-linecap="butt"/>
<line x1="638.90" y1="631.60" x2="638.90" y2="643.00" stroke="#000" stroke-width="2.1" stroke-linecap="butt"/>
<text x="196.90" y="671.20" font-family="'Liberation Serif','Times New Roman',serif" font-size="27" font-weight="bold" text-anchor="middle" >June</text>
<text x="344.20" y="671.20" font-family="'Liberation Serif','Times New Roman',serif" font-size="27" font-weight="bold" text-anchor="middle" >July</text>
<text x="491.50" y="671.20" font-family="'Liberation Serif','Times New Roman',serif" font-size="27" font-weight="bold" text-anchor="middle" >August</text>
<text x="638.80" y="671.20" font-family="'Liberation Serif','Times New Roman',serif" font-size="27" font-weight="bold" text-anchor="middle" >September</text>
<text transform="translate(47.6,448.4) rotate(-90)" font-family="'Liberation Serif','Times New Roman',serif" font-size="30" font-weight="bold">GEM (ng m<tspan font-size="16.5" dy="-10.4">-3</tspan><tspan dy="10.4" dx="1.2">)</tspan></text>
<rect x="533.30" y="52.20" width="169.30" height="136.90" fill="#fff" stroke="#383838" stroke-width="1.0"/>
<rect x="537.30" y="56.20" width="46.60" height="22.00" fill="#b7e4fd" stroke="#000" stroke-width="2.4"/>
<line x1="560.70" y1="83.00" x2="560.70" y2="105.00" stroke="#000" stroke-width="2.3" stroke-linecap="butt"/>
<line x1="552.40" y1="83.00" x2="569.00" y2="83.00" stroke="#000" stroke-width="2.3" stroke-linecap="butt"/>
<line x1="552.40" y1="105.00" x2="569.00" y2="105.00" stroke="#000" stroke-width="2.3" stroke-linecap="butt"/>
<line x1="545.00" y1="120.60" x2="576.20" y2="120.60" stroke="#000" stroke-width="2.4" stroke-linecap="butt"/>
<rect x="556.25" y="143.05" width="8.90" height="8.90" fill="#f00082" stroke="none" stroke-width="0"/>
<path d="M560.70 170.35L565.05 174.70L560.70 179.05L556.35 174.70Z" fill="#fff" stroke="#000" stroke-width="1.0"/>
<text x="589.60" y="74.40" font-family="'Liberation Serif','Times New Roman',serif" font-size="21.4" font-weight="normal" text-anchor="start" >25%~75%</text>
<text x="589.60" y="100.70" font-family="'Liberation Serif','Times New Roman',serif" font-size="21.4" font-weight="normal" text-anchor="start" >5%~95%</text>
<text x="589.60" y="127.10" font-family="'Liberation Serif','Times New Roman',serif" font-size="21.4" font-weight="normal" text-anchor="start" >Median Line</text>
<text x="589.60" y="154.10" font-family="'Liberation Serif','Times New Roman',serif" font-size="21.4" font-weight="normal" text-anchor="start" >Mean</text>
<text x="589.60" y="180.50" font-family="'Liberation Serif','Times New Roman',serif" font-size="21.4" font-weight="normal" text-anchor="start" >Outliers</text>
<text x="773.00" y="35.00" font-family="'Liberation Sans',Arial,sans-serif" font-size="40" font-weight="normal" text-anchor="start" >(<tspan dx="0.75">b</tspan><tspan dx="1.3">)</tspan></text>
<line x1="984.50" y1="328.30" x2="984.50" y2="421.40" stroke="#000" stroke-width="2.3" stroke-linecap="butt"/>
<line x1="984.50" y1="516.10" x2="984.50" y2="533.40" stroke="#000" stroke-width="2.3" stroke-linecap="butt"/>
<line x1="971.80" y1="328.30" x2="997.20" y2="328.30" stroke="#000" stroke-width="2.3" stroke-linecap="butt"/>
<line x1="971.80" y1="533.40" x2="997.20" y2="533.40" stroke="#000" stroke-width="2.3" stroke-linecap="butt"/>
<rect x="961.20" y="421.40" width="46.60" height="94.70" fill="#c0c0c0" stroke="#000" stroke-width="2.4"/>
<rect x="980.85" y="459.75" width="7.30" height="7.30" fill="#ff0000" stroke="none" stroke-width="0"/>
<line x1="961.20" y1="474.00" x2="1007.80" y2="474.00" stroke="#000" stroke-width="2.4" stroke-linecap="butt"/>
<path d="M984.50 312.95L988.85 317.30L984.50 321.65L980.15 317.30Z" fill="#fff" stroke="#5e5e5e" stroke-width="1.0"/>
<path d="M984.50 272.85L988.85 277.20L984.50 281.55L980.15 277.20Z" fill="#fff" stroke="#5e5e5e" stroke-width="1.0"/>
<path d="M984.50 291.05L988.85 295.40L984.50 299.75L980.15 295.40Z" fill="#fff" stroke="#5e5e5e" stroke-width="1.0"/>
<path d="M984.50 286.65L988.85 291.00L984.50 295.35L980.15 291.00Z" fill="#fff" stroke="#5e5e5e" stroke-width="1.0"/>
<path d="M984.50 225.45L988.85 229.80L984.50 234.15L980.15 229.80Z" fill="#fff" stroke="#5e5e5e" stroke-width="1.0"/>
<path d="M984.50 309.65L988.85 314.00L984.50 318.35L980.15 314.00Z" fill="#fff" stroke="#5e5e5e" stroke-width="1.0"/>
<path d="M984.50 268.95L988.85 273.30L984.50 277.65L980.15 273.30Z" fill="#fff" stroke="#5e5e5e" stroke-width="1.0"/>
<path d="M984.50 300.55L988.85 304.90L984.50 309.25L980.15 304.90Z" fill="#fff" stroke="#5e5e5e" stroke-width="1.0"/>
<path d="M984.50 278.65L988.85 283.00L984.50 287.35L980.15 283.00Z" fill="#fff" stroke="#5e5e5e" stroke-width="1.0"/>
<path d="M984.50 320.15L988.85 324.50L984.50 328.85L980.15 324.50Z" fill="#fff" stroke="#5e5e5e" stroke-width="1.0"/>
<path d="M984.50 281.35L988.85 285.70L984.50 290.05L980.15 285.70Z" fill="#fff" stroke="#5e5e5e" stroke-width="1.0"/>
<path d="M984.50 306.15L988.85 310.50L984.50 314.85L980.15 310.50Z" fill="#fff" stroke="#5e5e5e" stroke-width="1.0"/>
<path d="M984.50 317.65L988.85 322.00L984.50 326.35L980.15 322.00Z" fill="#fff" stroke="#5e5e5e" stroke-width="1.0"/>
<path d="M984.50 530.15L988.85 534.50L984.50 538.85L980.15 534.50Z" fill="#fff" stroke="#5e5e5e" stroke-width="1.0"/>
<path d="M984.50 542.15L988.85 546.50L984.50 550.85L980.15 546.50Z" fill="#fff" stroke="#5e5e5e" stroke-width="1.0"/>
<path d="M984.50 538.65L988.85 543.00L984.50 547.35L980.15 543.00Z" fill="#fff" stroke="#5e5e5e" stroke-width="1.0"/>
<path d="M984.50 534.05L988.85 538.40L984.50 542.75L980.15 538.40Z" fill="#fff" stroke="#5e5e5e" stroke-width="1.0"/>
<path d="M984.50 546.45L988.85 550.80L984.50 555.15L980.15 550.80Z" fill="#fff" stroke="#5e5e5e" stroke-width="1.0"/>
<line x1="1131.80" y1="375.40" x2="1131.80" y2="445.20" stroke="#000" stroke-width="2.3" stroke-linecap="butt"/>
<line x1="1131.80" y1="510.50" x2="1131.80" y2="539.00" stroke="#000" stroke-width="2.3" stroke-linecap="butt"/>
<line x1="1119.10" y1="375.40" x2="1144.50" y2="375.40" stroke="#000" stroke-width="2.3" stroke-linecap="butt"/>
<line x1="1119.10" y1="539.00" x2="1144.50" y2="539.00" stroke="#000" stroke-width="2.3" stroke-linecap="butt"/>
<rect x="1108.50" y="445.20" width="46.60" height="65.30" fill="#c0c0c0" stroke="#000" stroke-width="2.4"/>
<rect x="1128.05" y="472.85" width="7.30" height="7.30" fill="#ff0000" stroke="none" stroke-width="0"/>
<line x1="1108.50" y1="492.00" x2="1155.10" y2="492.00" stroke="#000" stroke-width="2.4" stroke-linecap="butt"/>
<path d="M1131.80 337.65L1136.15 342.00L1131.80 346.35L1127.45 342.00Z" fill="#fff" stroke="#5e5e5e" stroke-width="1.0"/>
<path d="M1131.80 333.65L1136.15 338.00L1131.80 342.35L1127.45 338.00Z" fill="#fff" stroke="#5e5e5e" stroke-width="1.0"/>
<path d="M1131.80 367.65L1136.15 372.00L1131.80 376.35L1127.45 372.00Z" fill="#fff" stroke="#5e5e5e" stroke-width="1.0"/>
<path d="M1131.80 301.15L1136.15 305.50L1131.80 309.85L1127.45 305.50Z" fill="#fff" stroke="#5e5e5e" stroke-width="1.0"/>
<path d="M1131.80 325.65L1136.15 330.00L1131.80 334.35L1127.45 330.00Z" fill="#fff" stroke="#5e5e5e" stroke-width="1.0"/>
<path d="M1131.80 356.65L1136.15 361.00L1131.80 365.35L1127.45 361.00Z" fill="#fff" stroke="#5e5e5e" stroke-width="1.0"/>
<path d="M1131.80 345.65L1136.15 350.00L1131.80 354.35L1127.45 350.00Z" fill="#fff" stroke="#5e5e5e" stroke-width="1.0"/>
<path d="M1131.80 348.65L1136.15 353.00L1131.80 357.35L1127.45 353.00Z" fill="#fff" stroke="#5e5e5e" stroke-width="1.0"/>
<path d="M1131.80 363.65L1136.15 368.00L1131.80 372.35L1127.45 368.00Z" fill="#fff" stroke="#5e5e5e" stroke-width="1.0"/>
<path d="M1131.80 322.65L1136.15 327.00L1131.80 331.35L1127.45 327.00Z" fill="#fff" stroke="#5e5e5e" stroke-width="1.0"/>
<path d="M1131.80 359.65L1136.15 364.00L1131.80 368.35L1127.45 364.00Z" fill="#fff" stroke="#5e5e5e" stroke-width="1.0"/>
<path d="M1131.80 305.65L1136.15 310.00L1131.80 314.35L1127.45 310.00Z" fill="#fff" stroke="#5e5e5e" stroke-width="1.0"/>
<path d="M1131.80 318.65L1136.15 323.00L1131.80 327.35L1127.45 323.00Z" fill="#fff" stroke="#5e5e5e" stroke-width="1.0"/>
<path d="M1131.80 341.65L1136.15 346.00L1131.80 350.35L1127.45 346.00Z" fill="#fff" stroke="#5e5e5e" stroke-width="1.0"/>
<path d="M1131.80 313.65L1136.15 318.00L1131.80 322.35L1127.45 318.00Z" fill="#fff" stroke="#5e5e5e" stroke-width="1.0"/>
<path d="M1131.80 371.05L1136.15 375.40L1131.80 379.75L1127.45 375.40Z" fill="#fff" stroke="#5e5e5e" stroke-width="1.0"/>
<path d="M1131.80 352.65L1136.15 357.00L1131.80 361.35L1127.45 357.00Z" fill="#fff" stroke="#5e5e5e" stroke-width="1.0"/>
<path d="M1131.80 329.65L1136.15 334.00L1131.80 338.35L1127.45 334.00Z" fill="#fff" stroke="#5e5e5e" stroke-width="1.0"/>
<path d="M1131.80 309.65L1136.15 314.00L1131.80 318.35L1127.45 314.00Z" fill="#fff" stroke="#5e5e5e" stroke-width="1.0"/>
<path d="M1131.80 546.65L1136.15 551.00L1131.80 555.35L1127.45 551.00Z" fill="#fff" stroke="#5e5e5e" stroke-width="1.0"/>
<path d="M1131.80 552.65L1136.15 557.00L1131.80 561.35L1127.45 557.00Z" fill="#fff" stroke="#5e5e5e" stroke-width="1.0"/>
<path d="M1131.80 540.65L1136.15 545.00L1131.80 549.35L1127.45 545.00Z" fill="#fff" stroke="#5e5e5e" stroke-width="1.0"/>
<path d="M1131.80 561.65L1136.15 566.00L1131.80 570.35L1127.45 566.00Z" fill="#fff" stroke="#5e5e5e" stroke-width="1.0"/>
<path d="M1131.80 573.65L1136.15 578.00L1131.80 582.35L1127.45 578.00Z" fill="#fff" stroke="#5e5e5e" stroke-width="1.0"/>
<path d="M1131.80 557.65L1136.15 562.00L1131.80 566.35L1127.45 562.00Z" fill="#fff" stroke="#5e5e5e" stroke-width="1.0"/>
<path d="M1131.80 567.65L1136.15 572.00L1131.80 576.35L1127.45 572.00Z" fill="#fff" stroke="#5e5e5e" stroke-width="1.0"/>
<path d="M1131.80 581.45L1136.15 585.80L1131.80 590.15L1127.45 585.80Z" fill="#fff" stroke="#5e5e5e" stroke-width="1.0"/>
<path d="M1131.80 534.65L1136.15 539.00L1131.80 543.35L1127.45 539.00Z" fill="#fff" stroke="#5e5e5e" stroke-width="1.0"/>
<line x1="1279.10" y1="294.50" x2="1279.10" y2="416.80" stroke="#000" stroke-width="2.3" stroke-linecap="butt"/>
<line x1="1279.10" y1="504.80" x2="1279.10" y2="538.70" stroke="#000" stroke-width="2.3" stroke-linecap="butt"/>
<line x1="1266.40" y1="294.50" x2="1291.80" y2="294.50" stroke="#000" stroke-width="2.3" stroke-linecap="butt"/>
<line x1="1266.40" y1="538.70" x2="1291.80" y2="538.70" stroke="#000" stroke-width="2.3" stroke-linecap="butt"/>
<rect x="1255.80" y="416.80" width="46.60" height="88.00" fill="#c0c0c0" stroke="#000" stroke-width="2.4"/>
<rect x="1275.65" y="450.45" width="7.30" height="7.30" fill="#ff0000" stroke="none" stroke-width="0"/>
<line x1="1255.80" y1="478.10" x2="1302.40" y2="478.10" stroke="#000" stroke-width="2.4" stroke-linecap="butt"/>
<path d="M1279.10 215.85L1283.45 220.20L1279.10 224.55L1274.75 220.20Z" fill="#fff" stroke="#5e5e5e" stroke-width="1.0"/>
<path d="M1279.10 278.45L1283.45 282.80L1279.10 287.15L1274.75 282.80Z" fill="#fff" stroke="#5e5e5e" stroke-width="1.0"/>
<path d="M1279.10 248.85L1283.45 253.20L1279.10 257.55L1274.75 253.20Z" fill="#fff" stroke="#5e5e5e" stroke-width="1.0"/>
<path d="M1279.10 210.95L1283.45 215.30L1279.10 219.65L1274.75 215.30Z" fill="#fff" stroke="#5e5e5e" stroke-width="1.0"/>
<path d="M1279.10 262.15L1283.45 266.50L1279.10 270.85L1274.75 266.50Z" fill="#fff" stroke="#5e5e5e" stroke-width="1.0"/>
<path d="M1279.10 280.85L1283.45 285.20L1279.10 289.55L1274.75 285.20Z" fill="#fff" stroke="#5e5e5e" stroke-width="1.0"/>
<path d="M1279.10 274.35L1283.45 278.70L1279.10 283.05L1274.75 278.70Z" fill="#fff" stroke="#5e5e5e" stroke-width="1.0"/>
<path d="M1279.10 223.95L1283.45 228.30L1279.10 232.65L1274.75 228.30Z" fill="#fff" stroke="#5e5e5e" stroke-width="1.0"/>
<path d="M1279.10 265.45L1283.45 269.80L1279.10 274.15L1274.75 269.80Z" fill="#fff" stroke="#5e5e5e" stroke-width="1.0"/>
<path d="M1279.10 229.65L1283.45 234.00L1279.10 238.35L1274.75 234.00Z" fill="#fff" stroke="#5e5e5e" stroke-width="1.0"/>
<path d="M1279.10 268.65L1283.45 273.00L1279.10 277.35L1274.75 273.00Z" fill="#fff" stroke="#5e5e5e" stroke-width="1.0"/>
<path d="M1279.10 258.95L1283.45 263.30L1279.10 267.65L1274.75 263.30Z" fill="#fff" stroke="#5e5e5e" stroke-width="1.0"/>
<path d="M1279.10 232.65L1283.45 237.00L1279.10 241.35L1274.75 237.00Z" fill="#fff" stroke="#5e5e5e" stroke-width="1.0"/>
<path d="M1279.10 245.95L1283.45 250.30L1279.10 254.65L1274.75 250.30Z" fill="#fff" stroke="#5e5e5e" stroke-width="1.0"/>
<path d="M1279.10 225.65L1283.45 230.00L1279.10 234.35L1274.75 230.00Z" fill="#fff" stroke="#5e5e5e" stroke-width="1.0"/>
<path d="M1279.10 203.35L1283.45 207.70L1279.10 212.05L1274.75 207.70Z" fill="#fff" stroke="#5e5e5e" stroke-width="1.0"/>
<path d="M1279.10 282.55L1283.45 286.90L1279.10 291.25L1274.75 286.90Z" fill="#fff" stroke="#5e5e5e" stroke-width="1.0"/>
<path d="M1279.10 213.45L1283.45 217.80L1279.10 222.15L1274.75 217.80Z" fill="#fff" stroke="#5e5e5e" stroke-width="1.0"/>
<path d="M1279.10 251.65L1283.45 256.00L1279.10 260.35L1274.75 256.00Z" fill="#fff" stroke="#5e5e5e" stroke-width="1.0"/>
<path d="M1279.10 255.65L1283.45 260.00L1279.10 264.35L1274.75 260.00Z" fill="#fff" stroke="#5e5e5e" stroke-width="1.0"/>
<path d="M1279.10 551.65L1283.45 556.00L1279.10 560.35L1274.75 556.00Z" fill="#fff" stroke="#5e5e5e" stroke-width="1.0"/>
<path d="M1279.10 573.15L1283.45 577.50L1279.10 581.85L1274.75 577.50Z" fill="#fff" stroke="#5e5e5e" stroke-width="1.0"/>
<path d="M1279.10 535.55L1283.45 539.90L1279.10 544.25L1274.75 539.90Z" fill="#fff" stroke="#5e5e5e" stroke-width="1.0"/>
<path d="M1279.10 559.65L1283.45 564.00L1279.10 568.35L1274.75 564.00Z" fill="#fff" stroke="#5e5e5e" stroke-width="1.0"/>
<path d="M1279.10 539.65L1283.45 544.00L1279.10 548.35L1274.75 544.00Z" fill="#fff" stroke="#5e5e5e" stroke-width="1.0"/>
<path d="M1279.10 543.65L1283.45 548.00L1279.10 552.35L1274.75 548.00Z" fill="#fff" stroke="#5e5e5e" stroke-width="1.0"/>
<path d="M1279.10 555.65L1283.45 560.00L1279.10 564.35L1274.75 560.00Z" fill="#fff" stroke="#5e5e5e" stroke-width="1.0"/>
<path d="M1279.10 547.65L1283.45 552.00L1279.10 556.35L1274.75 552.00Z" fill="#fff" stroke="#5e5e5e" stroke-width="1.0"/>
<path d="M1279.10 567.65L1283.45 572.00L1279.10 576.35L1274.75 572.00Z" fill="#fff" stroke="#5e5e5e" stroke-width="1.0"/>
<path d="M1279.10 563.65L1283.45 568.00L1279.10 572.35L1274.75 568.00Z" fill="#fff" stroke="#5e5e5e" stroke-width="1.0"/>
<line x1="1426.30" y1="214.90" x2="1426.30" y2="262.70" stroke="#000" stroke-width="2.3" stroke-linecap="butt"/>
<line x1="1426.30" y1="365.70" x2="1426.30" y2="390.20" stroke="#000" stroke-width="2.3" stroke-linecap="butt"/>
<line x1="1413.60" y1="214.90" x2="1439.00" y2="214.90" stroke="#000" stroke-width="2.3" stroke-linecap="butt"/>
<line x1="1413.60" y1="390.20" x2="1439.00" y2="390.20" stroke="#000" stroke-width="2.3" stroke-linecap="butt"/>
<rect x="1403.00" y="262.70" width="46.60" height="103.00" fill="#c0c0c0" stroke="#000" stroke-width="2.4"/>
<rect x="1422.65" y="315.15" width="7.30" height="7.30" fill="#ff0000" stroke="none" stroke-width="0"/>
<line x1="1403.00" y1="343.30" x2="1449.60" y2="343.30" stroke="#000" stroke-width="2.4" stroke-linecap="butt"/>
<path d="M1426.30 202.15L1430.65 206.50L1426.30 210.85L1421.95 206.50Z" fill="#fff" stroke="#5e5e5e" stroke-width="1.0"/>
<path d="M1426.30 162.65L1430.65 167.00L1426.30 171.35L1421.95 167.00Z" fill="#fff" stroke="#5e5e5e" stroke-width="1.0"/>
<path d="M1426.30 143.75L1430.65 148.10L1426.30 152.45L1421.95 148.10Z" fill="#fff" stroke="#5e5e5e" stroke-width="1.0"/>
<path d="M1426.30 126.55L1430.65 130.90L1426.30 135.25L1421.95 130.90Z" fill="#fff" stroke="#5e5e5e" stroke-width="1.0"/>
<path d="M1426.30 183.65L1430.65 188.00L1426.30 192.35L1421.95 188.00Z" fill="#fff" stroke="#5e5e5e" stroke-width="1.0"/>
<path d="M1426.30 210.55L1430.65 214.90L1426.30 219.25L1421.95 214.90Z" fill="#fff" stroke="#5e5e5e" stroke-width="1.0"/>
<path d="M1426.30 117.65L1430.65 122.00L1426.30 126.35L1421.95 122.00Z" fill="#fff" stroke="#5e5e5e" stroke-width="1.0"/>
<path d="M1426.30 178.25L1430.65 182.60L1426.30 186.95L1421.95 182.60Z" fill="#fff" stroke="#5e5e5e" stroke-width="1.0"/>
<path d="M1426.30 187.15L1430.65 191.50L1426.30 195.85L1421.95 191.50Z" fill="#fff" stroke="#5e5e5e" stroke-width="1.0"/>
<path d="M1426.30 197.75L1430.65 202.10L1426.30 206.45L1421.95 202.10Z" fill="#fff" stroke="#5e5e5e" stroke-width="1.0"/>
<path d="M1426.30 206.95L1430.65 211.30L1426.30 215.65L1421.95 211.30Z" fill="#fff" stroke="#5e5e5e" stroke-width="1.0"/>
<path d="M1426.30 192.45L1430.65 196.80L1426.30 201.15L1421.95 196.80Z" fill="#fff" stroke="#5e5e5e" stroke-width="1.0"/>
<path d="M1426.30 136.15L1430.65 140.50L1426.30 144.85L1421.95 140.50Z" fill="#fff" stroke="#5e5e5e" stroke-width="1.0"/>
<path d="M1426.30 401.15L1430.65 405.50L1426.30 409.85L1421.95 405.50Z" fill="#fff" stroke="#5e5e5e" stroke-width="1.0"/>
<path d="M1426.30 385.65L1430.65 390.00L1426.30 394.35L1421.95 390.00Z" fill="#fff" stroke="#5e5e5e" stroke-width="1.0"/>
<path d="M1426.30 409.35L1430.65 413.70L1426.30 418.05L1421.95 413.70Z" fill="#fff" stroke="#5e5e5e" stroke-width="1.0"/>
<path d="M1426.30 389.75L1430.65 394.10L1426.30 398.45L1421.95 394.10Z" fill="#fff" stroke="#5e5e5e" stroke-width="1.0"/>
<path d="M1426.30 405.25L1430.65 409.60L1426.30 413.95L1421.95 409.60Z" fill="#fff" stroke="#5e5e5e" stroke-width="1.0"/>
<path d="M1426.30 413.55L1430.65 417.90L1426.30 422.25L1421.95 417.90Z" fill="#fff" stroke="#5e5e5e" stroke-width="1.0"/>
<line x1="910.60" y1="71.90" x2="910.60" y2="635.00" stroke="#000" stroke-width="2.1" stroke-linecap="butt"/>
<line x1="909.55" y1="634.00" x2="1501.00" y2="634.00" stroke="#000" stroke-width="2.1" stroke-linecap="butt"/>
<line x1="900.00" y1="634.00" x2="910.60" y2="634.00" stroke="#000" stroke-width="2.1" stroke-linecap="butt"/>
<text x="892.60" y="643.20" font-family="'Liberation Serif','Times New Roman',serif" font-size="30" font-weight="bold" text-anchor="end" >70</text>
<line x1="900.00" y1="553.70" x2="910.60" y2="553.70" stroke="#000" stroke-width="2.1" stroke-linecap="butt"/>
<text x="892.60" y="562.90" font-family="'Liberation Serif','Times New Roman',serif" font-size="30" font-weight="bold" text-anchor="end" >80</text>
<line x1="900.00" y1="473.40" x2="910.60" y2="473.40" stroke="#000" stroke-width="2.1" stroke-linecap="butt"/>
<text x="892.60" y="482.60" font-family="'Liberation Serif','Times New Roman',serif" font-size="30" font-weight="bold" text-anchor="end" >90</text>
<line x1="900.00" y1="393.10" x2="910.60" y2="393.10" stroke="#000" stroke-width="2.1" stroke-linecap="butt"/>
<text x="892.60" y="402.30" font-family="'Liberation Serif','Times New Roman',serif" font-size="30" font-weight="bold" text-anchor="end" >100</text>
<line x1="900.00" y1="312.80" x2="910.60" y2="312.80" stroke="#000" stroke-width="2.1" stroke-linecap="butt"/>
<text x="892.60" y="322.00" font-family="'Liberation Serif','Times New Roman',serif" font-size="30" font-weight="bold" text-anchor="end" >110</text>
<line x1="900.00" y1="232.50" x2="910.60" y2="232.50" stroke="#000" stroke-width="2.1" stroke-linecap="butt"/>
<text x="892.60" y="241.70" font-family="'Liberation Serif','Times New Roman',serif" font-size="30" font-weight="bold" text-anchor="end" >120</text>
<line x1="900.00" y1="152.20" x2="910.60" y2="152.20" stroke="#000" stroke-width="2.1" stroke-linecap="butt"/>
<text x="892.60" y="161.40" font-family="'Liberation Serif','Times New Roman',serif" font-size="30" font-weight="bold" text-anchor="end" >130</text>
<line x1="900.00" y1="71.90" x2="910.60" y2="71.90" stroke="#000" stroke-width="2.1" stroke-linecap="butt"/>
<text x="892.60" y="81.10" font-family="'Liberation Serif','Times New Roman',serif" font-size="30" font-weight="bold" text-anchor="end" >140</text>
<line x1="905.30" y1="593.85" x2="910.60" y2="593.85" stroke="#000" stroke-width="2.1" stroke-linecap="butt"/>
<line x1="905.30" y1="513.55" x2="910.60" y2="513.55" stroke="#000" stroke-width="2.1" stroke-linecap="butt"/>
<line x1="905.30" y1="433.25" x2="910.60" y2="433.25" stroke="#000" stroke-width="2.1" stroke-linecap="butt"/>
<line x1="905.30" y1="352.95" x2="910.60" y2="352.95" stroke="#000" stroke-width="2.1" stroke-linecap="butt"/>
<line x1="905.30" y1="272.65" x2="910.60" y2="272.65" stroke="#000" stroke-width="2.1" stroke-linecap="butt"/>
<line x1="905.30" y1="192.35" x2="910.60" y2="192.35" stroke="#000" stroke-width="2.1" stroke-linecap="butt"/>
<line x1="905.30" y1="112.05" x2="910.60" y2="112.05" stroke="#000" stroke-width="2.1" stroke-linecap="butt"/>
<line x1="984.50" y1="634.00" x2="984.50" y2="644.80" stroke="#000" stroke-width="2.1" stroke-linecap="butt"/>
<text x="984.50" y="671.70" font-family="'Liberation Serif','Times New Roman',serif" font-size="24" font-weight="bold" text-anchor="middle" >June</text>
<line x1="1131.80" y1="634.00" x2="1131.80" y2="644.80" stroke="#000" stroke-width="2.1" stroke-linecap="butt"/>
<text x="1131.80" y="671.70" font-family="'Liberation Serif','Times New Roman',serif" font-size="24" font-weight="bold" text-anchor="middle" >July</text>
<line x1="1279.10" y1="634.00" x2="1279.10" y2="644.80" stroke="#000" stroke-width="2.1" stroke-linecap="butt"/>
<text x="1279.10" y="671.70" font-family="'Liberation Serif','Times New Roman',serif" font-size="24" font-weight="bold" text-anchor="middle" >August</text>
<line x1="1426.30" y1="634.00" x2="1426.30" y2="644.80" stroke="#000" stroke-width="2.1" stroke-linecap="butt"/>
<text x="1426.30" y="671.70" font-family="'Liberation Serif','Times New Roman',serif" font-size="24" font-weight="bold" text-anchor="middle" >September</text>
<text transform="translate(818.6,415.2) rotate(-90)" font-family="'Liberation Serif','Times New Roman',serif" font-size="34.65" font-weight="bold">CO (ppb)</text>
<rect x="924.30" y="38.20" width="169.30" height="136.90" fill="#fff" stroke="#383838" stroke-width="1.0"/>
<rect x="928.30" y="42.20" width="46.60" height="22.00" fill="#c0c0c0" stroke="#000" stroke-width="2.4"/>
<line x1="951.70" y1="69.00" x2="951.70" y2="91.00" stroke="#000" stroke-width="2.3" stroke-linecap="butt"/>
<line x1="943.60" y1="69.00" x2="959.80" y2="69.00" stroke="#000" stroke-width="2.3" stroke-linecap="butt"/>
<line x1="943.60" y1="91.00" x2="959.80" y2="91.00" stroke="#000" stroke-width="2.3" stroke-linecap="butt"/>
<line x1="936.00" y1="106.60" x2="967.20" y2="106.60" stroke="#000" stroke-width="2.4" stroke-linecap="butt"/>
<rect x="948.00" y="129.80" width="7.40" height="7.40" fill="#ff0000" stroke="none" stroke-width="0"/>
<path d="M951.70 156.35L956.05 160.70L951.70 165.05L947.35 160.70Z" fill="#fff" stroke="#5e5e5e" stroke-width="1.0"/>
<text x="980.60" y="60.40" font-family="'Liberation Serif','Times New Roman',serif" font-size="21.4" font-weight="normal" text-anchor="start" >25%~75%</text>
<text x="980.60" y="86.70" font-family="'Liberation Serif','Times New Roman',serif" font-size="21.4" font-weight="normal" text-anchor="start" >5%~95%</text>
<text x="980.60" y="113.10" font-family="'Liberation Serif','Times New Roman',serif" font-size="21.4" font-weight="normal" text-anchor="start" >Median Line</text>
<text x="980.60" y="140.10" font-family="'Liberation Serif','Times New Roman',serif" font-size="21.4" font-weight="normal" text-anchor="start" >Mean</text>
<text x="980.60" y="166.50" font-family="'Liberation Serif','Times New Roman',serif" font-size="21.4" font-weight="normal" text-anchor="start" >Outliers</text>
</svg>
</body></html>
